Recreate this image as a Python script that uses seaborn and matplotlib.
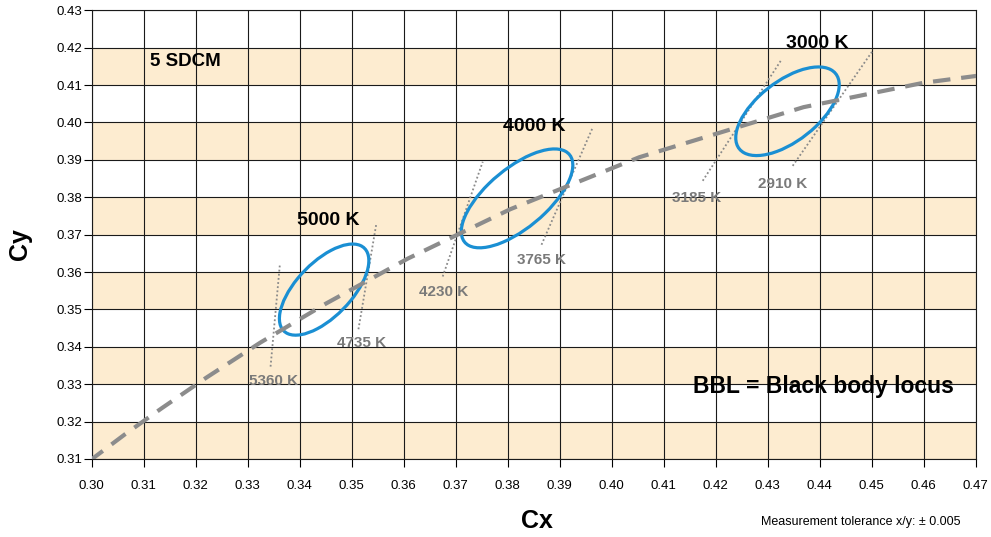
import numpy as np
import matplotlib.pyplot as plt
from matplotlib.patches import Ellipse
import seaborn as sns

# =========================
# STYLE
# =========================
sns.set_style("white")
plt.rcParams["font.family"] = ["Liberation Sans", "DejaVu Sans"]
plt.rcParams["text.color"] = "black"
plt.rcParams["axes.labelcolor"] = "black"

# =========================
# DATA
# =========================
# black body locus (Planck) in CIE x/y
bbl_x = [0.2951, 0.3064, 0.3135, 0.3221, 0.3324, 0.3451, 0.3608, 0.3805, 0.4053, 0.4369, 0.4599, 0.4770]
bbl_y = [0.3048, 0.3166, 0.3236, 0.3318, 0.3411, 0.3516, 0.3636, 0.3768, 0.3907, 0.4041, 0.4106, 0.4137]

# MacAdam ellipses (1 step), drawn at 5 SDCM
ell_names = ["5000 K", "4000 K", "3000 K"]
ell_x = [0.3447, 0.3818, 0.4338]
ell_y = [0.3553, 0.3797, 0.4030]
ell_a = [0.00274, 0.00313, 0.00278]
ell_b = [0.00118, 0.00134, 0.00136]
ell_angle = [59.6, 53.7, 53.2]
sdcm = 5

# isotherm lines bounding each ellipse
iso_names = ["5360 K", "4735 K", "4230 K", "3765 K", "3185 K", "2910 K"]
iso_x0 = [0.3344, 0.3513, 0.3675, 0.3865, 0.4175, 0.4348]
iso_y0 = [0.3347, 0.3447, 0.3588, 0.3673, 0.3844, 0.3884]
iso_x1 = [0.3362, 0.3547, 0.3752, 0.3963, 0.4326, 0.4503]
iso_y1 = [0.3622, 0.3726, 0.3895, 0.3985, 0.4167, 0.4194]

x_ticks = np.round(np.arange(0.30, 0.4701, 0.01), 2)
y_ticks = np.round(np.arange(0.31, 0.4301, 0.01), 2)
band_starts = [0.31, 0.33, 0.35, 0.37, 0.39, 0.41]

# label positions (data coords)
iso_lbl_x = [0.3350, 0.3519, 0.3676, 0.3865, 0.4164, 0.4328]
iso_lbl_y = [0.3308, 0.3410, 0.3547, 0.3632, 0.3798, 0.3835]
ell_lbl_x = [0.3454, 0.3851, 0.4395]
ell_lbl_y = [0.3739, 0.3989, 0.4212]

# =========================
# PLOT
# =========================
fig = plt.figure(figsize=(9.91, 5.37), dpi=100)
ax = fig.add_axes([0.0925, 0.1453, 0.8921, 0.8355])

for y0 in band_starts:
    ax.axhspan(y0, y0 + 0.01, color="#FDECD0", lw=0, zorder=0)

ax.set_axisbelow(True)
ax.grid(True, color="#1a1a1a", lw=0.8)

# isotherms
for i in range(len(iso_names)):
    ax.plot([iso_x0[i], iso_x1[i]], [iso_y0[i], iso_y1[i]],
            color="#8a8a8a", lw=1.3, linestyle=(0, (1, 1.3)), zorder=2)
    ax.text(iso_lbl_x[i], iso_lbl_y[i], iso_names[i], color="#7a7a7a",
            fontsize=11, fontweight="bold", ha="center", va="center", zorder=5)

# ellipses
for i in range(len(ell_names)):
    e = Ellipse((ell_x[i], ell_y[i]), 2 * sdcm * ell_a[i], 2 * sdcm * ell_b[i],
                angle=ell_angle[i], fill=False, edgecolor="#1A8FD3", lw=2.3, zorder=3)
    ax.add_patch(e)
    ax.text(ell_lbl_x[i], ell_lbl_y[i], ell_names[i], color="black",
            fontsize=14, fontweight="bold", ha="center", va="center", zorder=5)

# black body locus
sns.lineplot(x=bbl_x, y=bbl_y, sort=False, ax=ax, color="#8c8c8c", lw=3,
             linestyle=(0, (4.2, 2.6)), zorder=4)

ax.set_xlim(0.30, 0.47)
ax.set_ylim(0.31, 0.43)
ax.set_xticks(x_ticks)
ax.set_yticks(y_ticks)
ax.set_xticklabels([f"{v:.2f}" for v in x_ticks])
ax.set_yticklabels([f"{v:.2f}" for v in y_ticks])
ax.tick_params(axis="x", direction="out", length=6, width=0.8, pad=9, labelsize=9.5,
               colors="black", bottom=True)
ax.tick_params(axis="y", direction="out", length=6, width=0.8, pad=1, labelsize=9.5,
               colors="black", left=True)
for s in ax.spines.values():
    s.set_color("#1a1a1a")
    s.set_linewidth(0.8)

ax.text(0.3112, 0.4163, "5 SDCM", fontsize=13.5, fontweight="bold", ha="left", va="center",
        color="black", zorder=5)
ax.text(0.4156, 0.3294, "BBL = Black body locus", fontsize=16.5, fontweight="bold",
        ha="left", va="center", color="black", zorder=5)

fig.text(537 / 991, 1 - 521 / 537, "Cx", fontsize=18, fontweight="bold", ha="center", va="center",
         color="black")
fig.text(20 / 991, 1 - 244 / 537, "Cy", fontsize=18, fontweight="bold", ha="center", va="center",
         rotation=90, color="black")
fig.text(861 / 991, 1 - 522 / 537, "Measurement tolerance x/y: \u00b1 0.005", fontsize=9,
         ha="center", va="center", color="black")

plt.savefig("out.png", dpi=100)
plt.close()
